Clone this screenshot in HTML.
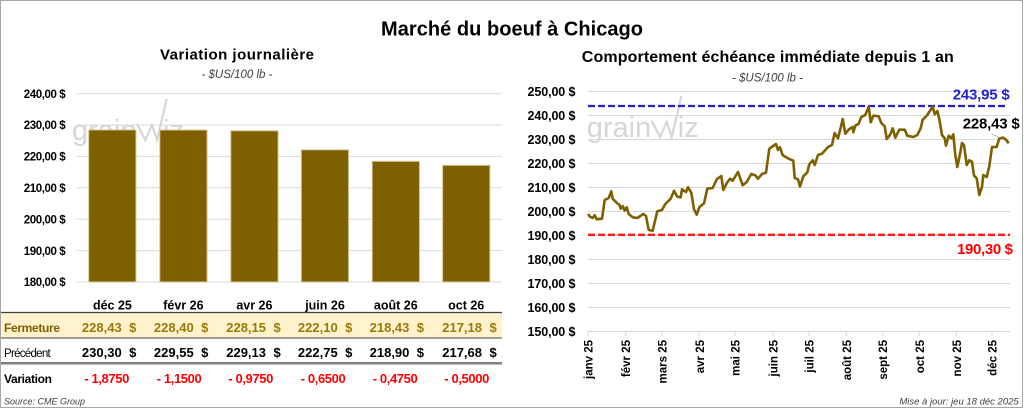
<!DOCTYPE html>
<html><head><meta charset="utf-8"><style>
html,body{margin:0;padding:0;background:#fff;}
svg{display:block;font-family:"Liberation Sans",Arial,sans-serif;}
</style></head><body>
<svg width="1024" height="409" viewBox="0 0 1024 409" xmlns="http://www.w3.org/2000/svg">
<rect x="0" y="0" width="1024" height="409" fill="#fff"/>
<rect x="0.5" y="0.5" width="1022" height="407" fill="none" stroke="#a6a6a6" stroke-width="1"/>

<text x="512" y="35.5" text-anchor="middle" font-size="20" font-weight="bold" fill="#000" textLength="262">Marché du boeuf à Chicago</text>

<!-- LEFT CHART -->
<text x="237" y="59.5" text-anchor="middle" font-size="15" font-weight="bold" fill="#000" textLength="154">Variation  journalière</text>
<text x="237" y="78" text-anchor="middle" font-size="11.5" font-style="italic" fill="#404040">- $US/100 lb -</text>

<g stroke="#d9d9d9" stroke-width="1">
<line x1="76.7" y1="93.7" x2="501.7" y2="93.7"/>
<line x1="76.7" y1="125" x2="501.7" y2="125"/>
<line x1="76.7" y1="156.4" x2="501.7" y2="156.4"/>
<line x1="76.7" y1="187.8" x2="501.7" y2="187.8"/>
<line x1="76.7" y1="219.2" x2="501.7" y2="219.2"/>
<line x1="76.7" y1="250.6" x2="501.7" y2="250.6"/>
<line x1="76.7" y1="282" x2="501.7" y2="282"/>
</g>
<g font-size="11.5" font-weight="bold" fill="#000" text-anchor="end">
<text x="65.7" y="97.9" textLength="42">240,00 $</text>
<text x="65.7" y="129.2" textLength="42">230,00 $</text>
<text x="65.7" y="160.6" textLength="42">220,00 $</text>
<text x="65.7" y="192" textLength="42">210,00 $</text>
<text x="65.7" y="223.4" textLength="42">200,00 $</text>
<text x="65.7" y="254.8" textLength="42">190,00 $</text>
<text x="65.7" y="286.2" textLength="42">180,00 $</text>
</g>

<!-- watermark left -->
<g fill="none" stroke="#d6d6d6" stroke-width="2.2">
<polyline points="137,123.7 145.3,140 152,125 157,140 166.7,99"/>
</g>
<text x="72" y="140" font-size="29" fill="#d6d6d6">grain</text>
<text x="163" y="140" font-size="29" fill="#d6d6d6">iz</text>

<g fill="#7f6000" stroke="#d8c89a" stroke-width="1">
<rect x="88.7" y="129.9" width="47.3" height="152.1"/>
<rect x="159.8" y="130" width="47.3" height="152"/>
<rect x="230.8" y="130.8" width="47.3" height="151.2"/>
<rect x="301.3" y="149.8" width="47.3" height="132.2"/>
<rect x="372.2" y="161.3" width="47.3" height="120.7"/>
<rect x="442.6" y="165.3" width="47.3" height="116.7"/>
</g>

<g font-size="12.5" font-weight="bold" fill="#000" text-anchor="middle">
<text x="112.4" y="309.5">déc 25</text>
<text x="183.4" y="309.5">févr 26</text>
<text x="254.4" y="309.5">avr 26</text>
<text x="325" y="309.5">juin 26</text>
<text x="395.8" y="309.5">août 26</text>
<text x="466.2" y="309.5">oct 26</text>
</g>

<rect x="1" y="313" width="501" height="25" fill="#fff2cc"/>
<line x1="1" y1="312.5" x2="502" y2="312.5" stroke="#404040" stroke-width="1.2"/>
<line x1="1" y1="338" x2="502" y2="338" stroke="#404040" stroke-width="1"/>
<line x1="1" y1="363.3" x2="502" y2="363.3" stroke="#7f7f7f" stroke-width="2.5"/>

<text x="4" y="331.8" font-size="12" font-weight="bold" fill="#7f6000" textLength="56">Fermeture</text>
<g font-size="13" font-weight="bold" fill="#9a7a08" text-anchor="end">
<text x="121.7" y="332">228,43</text><text x="136.3" y="332">$</text>
<text x="193.7" y="332">228,40</text><text x="208.3" y="332">$</text>
<text x="266" y="332">228,15</text><text x="280.7" y="332">$</text>
<text x="337.7" y="332">222,10</text><text x="352.3" y="332">$</text>
<text x="409.4" y="332">218,43</text><text x="424" y="332">$</text>
<text x="482" y="332">217,18</text><text x="496.7" y="332">$</text>
</g>

<text x="4" y="356.8" font-size="11.5" fill="#000" textLength="46.7">Précédent</text>
<g font-size="13" font-weight="bold" fill="#000" text-anchor="end">
<text x="121.7" y="357.2">230,30</text><text x="136.3" y="357.2">$</text>
<text x="193.7" y="357.2">229,55</text><text x="208.3" y="357.2">$</text>
<text x="266" y="357.2">229,13</text><text x="280.7" y="357.2">$</text>
<text x="337.7" y="357.2">222,75</text><text x="352.3" y="357.2">$</text>
<text x="409.4" y="357.2">218,90</text><text x="424" y="357.2">$</text>
<text x="482" y="357.2">217,68</text><text x="496.7" y="357.2">$</text>
</g>

<text x="4" y="383" font-size="12" font-weight="bold" fill="#000" textLength="48">Variation</text>
<g font-size="13" font-weight="bold" fill="#ff0000" text-anchor="end">
<text x="129.3" y="383.2" textLength="45">- 1,8750</text>
<text x="201.7" y="383.2" textLength="45">- 1,1500</text>
<text x="273.3" y="383.2" textLength="45">- 0,9750</text>
<text x="345.7" y="383.2" textLength="45">- 0,6500</text>
<text x="417.7" y="383.2" textLength="45">- 0,4750</text>
<text x="489.3" y="383.2" textLength="45">- 0,5000</text>
</g>
<text x="4" y="404.5" font-size="9" font-style="italic" fill="#404040">Source: CME Group</text>

<!-- RIGHT CHART -->
<text x="767.8" y="62" text-anchor="middle" font-size="16" font-weight="bold" fill="#000" textLength="372">Comportement  échéance immédiate depuis 1 an</text>
<text x="767.5" y="81.5" text-anchor="middle" font-size="11.5" font-style="italic" fill="#404040">- $US/100 lb -</text>

<g stroke="#d9d9d9" stroke-width="1">
<line x1="588" y1="91.5" x2="1010" y2="91.5"/>
<line x1="588" y1="115.5" x2="1010" y2="115.5"/>
<line x1="588" y1="139.5" x2="1010" y2="139.5"/>
<line x1="588" y1="163.5" x2="1010" y2="163.5"/>
<line x1="588" y1="187.5" x2="1010" y2="187.5"/>
<line x1="588" y1="211.5" x2="1010" y2="211.5"/>
<line x1="588" y1="235.5" x2="1010" y2="235.5"/>
<line x1="588" y1="259.5" x2="1010" y2="259.5"/>
<line x1="588" y1="283.5" x2="1010" y2="283.5"/>
<line x1="588" y1="307.5" x2="1010" y2="307.5"/>
<line x1="588" y1="331.5" x2="1010" y2="331.5"/>
</g>
<g stroke="#d9d9d9" stroke-width="1">
<line x1="588" y1="331.5" x2="588" y2="336"/>
<line x1="625.7" y1="331.5" x2="625.7" y2="336"/>
<line x1="662" y1="331.5" x2="662" y2="336"/>
<line x1="699.3" y1="331.5" x2="699.3" y2="336"/>
<line x1="735" y1="331.5" x2="735" y2="336"/>
<line x1="773" y1="331.5" x2="773" y2="336"/>
<line x1="809" y1="331.5" x2="809" y2="336"/>
<line x1="846.3" y1="331.5" x2="846.3" y2="336"/>
<line x1="882.7" y1="331.5" x2="882.7" y2="336"/>
<line x1="919.3" y1="331.5" x2="919.3" y2="336"/>
<line x1="956.3" y1="331.5" x2="956.3" y2="336"/>
<line x1="992" y1="331.5" x2="992" y2="336"/>
</g>
<g font-size="12.5" font-weight="bold" fill="#000" text-anchor="end">
<text x="575.5" y="95.9" textLength="48">250,00 $</text>
<text x="575.5" y="119.9" textLength="48">240,00 $</text>
<text x="575.5" y="143.9" textLength="48">230,00 $</text>
<text x="575.5" y="167.9" textLength="48">220,00 $</text>
<text x="575.5" y="191.9" textLength="48">210,00 $</text>
<text x="575.5" y="215.9" textLength="48">200,00 $</text>
<text x="575.5" y="239.9" textLength="48">190,00 $</text>
<text x="575.5" y="263.9" textLength="48">180,00 $</text>
<text x="575.5" y="287.9" textLength="48">170,00 $</text>
<text x="575.5" y="311.9" textLength="48">160,00 $</text>
<text x="575.5" y="335.9" textLength="48">150,00 $</text>
</g>
<g font-size="11.5" font-weight="bold" fill="#000" text-anchor="end">
<text transform="translate(592.5,340) rotate(-90)">janv 25</text>
<text transform="translate(630.2,340) rotate(-90)">févr 25</text>
<text transform="translate(666.5,340) rotate(-90)">mars 25</text>
<text transform="translate(703.8,340) rotate(-90)">avr 25</text>
<text transform="translate(739.5,340) rotate(-90)">mai 25</text>
<text transform="translate(777.5,340) rotate(-90)">juin 25</text>
<text transform="translate(813.5,340) rotate(-90)">juil 25</text>
<text transform="translate(850.8,340) rotate(-90)">août 25</text>
<text transform="translate(887.2,340) rotate(-90)">sept 25</text>
<text transform="translate(923.8,340) rotate(-90)">oct 25</text>
<text transform="translate(960.8,340) rotate(-90)">nov 25</text>
<text transform="translate(996.5,340) rotate(-90)">déc 25</text>
</g>

<!-- watermark right -->
<g fill="none" stroke="#d6d6d6" stroke-width="2.2">
<polyline points="651.7,120.7 660,137 666.7,122 671.7,137 681.4,96"/>
</g>
<text x="586.7" y="137" font-size="29" fill="#d6d6d6">grain</text>
<text x="677.7" y="137" font-size="29" fill="#d6d6d6">iz</text>

<line x1="588" y1="106" x2="1008" y2="106" stroke="#2222cc" stroke-width="2.2" stroke-dasharray="7,3"/>
<line x1="588" y1="234.8" x2="1010" y2="234.8" stroke="#ff1a1a" stroke-width="2.4" stroke-dasharray="7,3"/>

<polyline fill="none" stroke="#7f6000" stroke-width="2.6" stroke-linejoin="round" points="588,214 590,216.7 592.7,218 594.7,215.3 596.7,219.3 602,218.7 604.7,200 608.7,198 611.3,191.3 612.7,198.7 617.3,203.3 619.3,204.7 620.7,208.7 622.7,206 624.7,210.7 626.7,207.3 628.7,214 632.7,217.3 637.3,218 643.3,214 646,216 648.7,230 652.7,230.7 657.3,211.3 662,210 665.3,204 670.7,198.7 674,190.7 677.3,196.7 680.7,197.3 682,189.3 686,192 688,187.3 691.3,192.7 694,209.3 696.7,214.7 699.3,207.3 704,203.3 707.3,188.7 712.7,188 716.7,179.3 721.3,176 723.3,190 726.7,183.3 730,178.7 732.7,180.7 738,172 742.7,185.3 746.7,182 751.3,174 755.3,175.3 758,178.7 762,174 766,172.7 769.3,148.7 776,144 778,150 780,147.3 782.7,155.3 788.7,158.7 793.3,160.7 794.7,178 798,179.3 800,186.5 803.3,176.3 807.3,172.3 809.3,164.3 812.7,160.3 814.7,165 818,155 822,153.7 828,147 832,145 834.7,133 838,138.3 840.7,127.7 842.7,119 845.3,133.7 849.3,129 852.7,127 853.3,132.3 855.3,125.7 858.7,123.7 861.3,117 865.3,115 868.7,106.5 870.7,122.3 873.3,115.7 878.7,116.3 881.3,123 884.7,126.3 886.7,139 890,135 892.7,128.3 895.3,137.7 899.3,129.7 904.7,129.7 907.3,135.7 913.3,137 917.3,135 920.7,128.3 922.7,119.7 927.3,115 932.7,106.5 934.7,114.3 937.3,111 939.3,119 942,135 944.7,138.3 946,145.7 948.7,135.7 951.3,138.3 953.3,134.3 955.3,155 957.3,167 959.3,157.7 962,143 964,145 966.7,165 969.3,160.3 972,161.7 974,175.7 976.7,178.3 979.3,195 982,187 983.3,175 986.7,177 989.3,166.3 992,147 996.7,147 999.3,138.3 1003.3,137.7 1006,139.7 1008.7,143.3"/>

<line x1="991.3" y1="133.7" x2="1000" y2="137.7" stroke="#a6a6a6" stroke-width="0.8"/>

<text x="952.7" y="99.3" font-size="15" font-weight="bold" fill="#2222cc" textLength="57">243,95 $</text>
<text x="962.7" y="128.5" font-size="15" font-weight="bold" fill="#000" textLength="57">228,43 $</text>
<text x="957" y="254" font-size="15" font-weight="bold" fill="#ff0000" textLength="56">190,30 $</text>

<text x="1018.7" y="404.5" text-anchor="end" font-size="9.5" font-style="italic" fill="#404040">Mise à jour: jeu 18 déc 2025</text>
</svg>
</body></html>
